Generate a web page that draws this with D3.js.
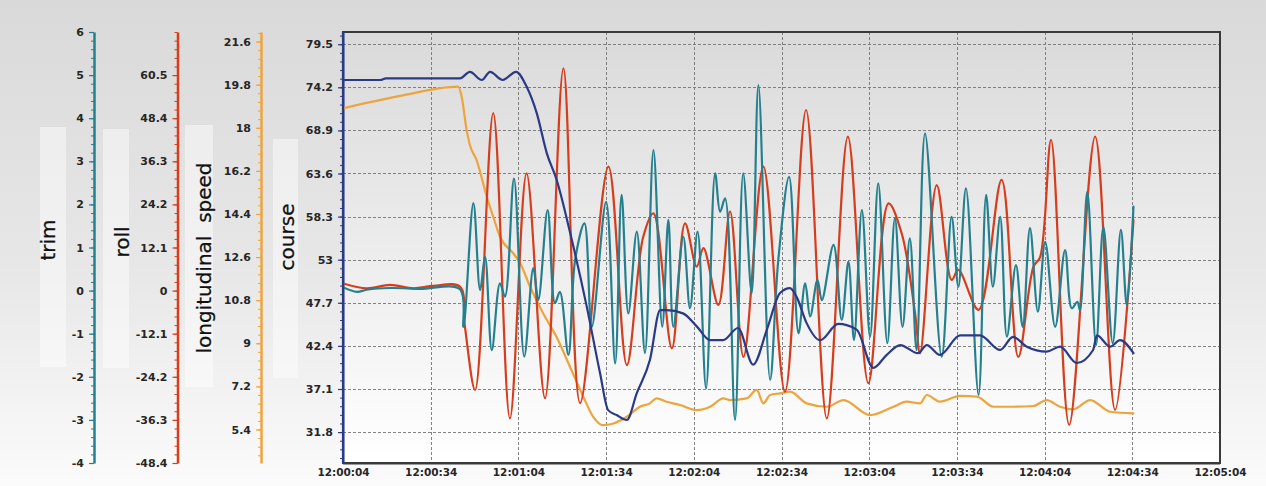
<!DOCTYPE html>
<html>
<head>
<meta charset="utf-8">
<script src="https://cdn.jsdelivr.net/npm/d3@7"></script>
<style>
  body { margin: 0; background: #fff; }
  svg { display: block; }
</style>
</head>
<body>
<svg id="chart" width="1266" height="486"></svg>
<script>
// ---- time axis ----
const startLabel = "12:00:04";
const endLabel = "12:05:04";
const timeTickLabels = ["12:00:04", "12:00:34", "12:01:04", "12:01:34", "12:02:04", "12:02:34",
                        "12:03:04", "12:03:34", "12:04:04", "12:04:34", "12:05:04"];

// ---- axis tick labels ----
const trimTickLabels   = ["-4", "-3", "-2", "-1", "0", "1", "2", "3", "4", "5", "6"];
const rollTickLabels   = ["-48.4", "-36.3", "-24.2", "-12.1", "0", "12.1", "24.2", "36.3", "48.4", "60.5"];
const speedTickLabels  = ["5.4", "7.2", "9", "10.8", "12.6", "14.4", "16.2", "18", "19.8", "21.6"];
const courseTickLabels = ["31.8", "37.1", "42.4", "47.7", "53", "58.3", "63.6", "68.9", "74.2", "79.5"];

// ---- axis ranges ----
const trimDomain   = [-4, 6];
const rollDomain   = [-48.4, 72.6];
const speedDomain  = [4, 22];
const courseDomain = [28, 81];

// ---- series (seconds after 12:00:04, value) ----
const courseSec = [0, 12.7, 14.7, 40, 43.4, 47.5, 50.3, 54.6, 59.2, 62.8, 66.3, 69.7, 73.1, 77.7, 83.4, 87.9,
  90.7, 93.6, 97.1, 100.5, 105, 108.5, 110.7, 116.3, 121, 125.6, 130, 135.1, 140.3, 145, 149.5, 152.9,
  155.2, 158.6, 163.2, 169.4, 175.7, 181.4, 186, 190.6, 196.7, 199.7, 204.2, 211.1, 217.9, 224.8, 229.2,
  233.9, 240.7, 245.3, 251, 256.6, 257.9, 262.4, 265.8, 270.4];
const courseVal = [75.1, 75.1, 75.3, 75.3, 76.1, 75.1, 76.1, 75.1, 76.1, 74.3, 71.0, 66.1, 62.8, 56.3, 47.2, 39.1,
  34.5, 33.9, 33.3, 36.6, 40.7, 46.8, 46.8, 46.4, 44.8, 43.1, 43.1, 44.6, 40.1, 44.4, 48.9, 49.5,
  48.4, 45.2, 43.1, 45.1, 44.4, 39.7, 41.3, 42.5, 41.5, 42.5, 41.3, 43.7, 43.7, 41.9, 43.5,
  42.3, 41.7, 42.3, 40.3, 41.9, 43.7, 42.3, 43.1, 41.5];

const speedSec = [0, 19.5, 39.4, 40.6, 42.3, 43.4, 45.7, 49.2, 51.4, 53.7, 58.3, 60.6, 64, 68.5, 73.1, 77.7, 82.2,
  85.6, 89, 92.5, 97.1, 101.6, 105, 107.3, 110.7, 115.3, 121, 125.6, 130.1, 132.4, 138.1, 141.5, 143.8,
  146.1, 149.5, 152.9, 158.6, 165.5, 171.2, 180.3, 188.3, 192.8, 197.4, 199.7, 204.2, 211.1, 216.8,
  222.5, 229.3, 236.2, 240.7, 245.3, 249.8, 255.6, 262.4, 270.4];
const speedVal = [18.81, 19.33, 19.72, 19.3, 17.9, 17.28, 16.65, 15.12, 14.28, 13.45, 12.75, 12.34, 11.36, 10.24, 9.25, 8.0, 6.77,
  5.93, 5.58, 5.65, 5.93, 6.35, 6.49, 6.7, 6.56, 6.42, 6.21, 6.35, 6.7, 6.63, 6.7, 7.05, 6.49,
  6.84, 6.91, 6.98, 6.49, 6.35, 6.63, 6.0, 6.35, 6.56, 6.49, 6.84, 6.56, 6.8, 6.77,
  6.35, 6.35, 6.38, 6.63, 6.35, 6.24, 6.63, 6.14, 6.07];

const rollSec = [0, 8.1, 16.1, 24.1, 30.9, 40, 41.7, 45.2, 51.4, 57.1, 62.8, 69.1, 75.4, 81.1, 90.8, 97.1,
  102.7, 106.2, 112.5, 117, 121, 123.3, 128.4, 132.4, 137, 143.8, 151.2, 158.4, 165.5, 172.7, 179.7,
  186.6, 191.1, 195.7, 197.4, 203.1, 208.2, 210.5, 217.4, 225.3, 231, 236.2, 238.5, 242.2, 248.4,
  257.3, 264.1, 270.4];
const rollVal = [2.0, 0.65, 1.6, 0.65, 1.3, 1.1, -10.1, -27.9, 49.8, -35.9, 32.9, -30.2, 62.4, -31.6, 34.8, -20.9,
  15.1, 21.7, -16.2, 18.9, 6.7, 11.9, -4.0, 22.2, -18.6, 34.8, -28.4, 50.7, -35.9, 43.2, -26.0,
  24.5, 16.1, -6.4, -17.6, 29.6, 3.0, 5.8, -5.4, 31.1, -18.6, 6.7, 9.5, 42.3, -37.7,
  43.2, -33.5, 19.8];

const trimSec = [0, 4.7, 8.1, 16.1, 26.3, 40, 41.2, 44.6, 46.9, 48.6, 50.9, 53.7, 55.4, 58.5, 62, 65.1,
  66.8, 70, 72.5, 74.2, 77.1, 79.4, 82.6, 85.1, 90, 93.1, 95.3, 97.6, 100.5, 103.3, 106.2, 109.2,
  111.3, 113, 116.4, 118.7, 121.3, 124.2, 127.3, 129, 130.7, 134.1, 136.9, 139.8, 142.1, 146.1,
  148.9, 152.6, 155.8, 158.1, 159.8, 162.3, 163.8, 167.8, 170.6, 172.9, 174.8, 177.5, 180.3, 183.1,
  186.2, 188.8, 191.4, 193.9, 196.2, 199.1, 204.8, 208.2, 210.5, 213.1, 217.4, 220, 222.3, 224.8,
  227.1, 230.2, 232.5, 235, 237.7, 240.2, 243.6, 247, 249.3, 251.2, 252.1, 254.6, 257.6, 260.1,
  263.3, 266.1, 268.1, 270.4];
const trimVal = [0.08, -0.03, 0.02, 0.06, 0.04, 0.03, -0.84, 2.03, 0.01, 0.79, -1.38, 0.17, -0.14, 2.6, -1.53, 0.52,
  -0.22, 1.87, -0.29, -0.03, -1.49, 0.71, 1.56, -0.84, 2.06, -1.69, 2.22, -0.53, 1.37, -1.45, 3.26, -0.84,
  1.64, -0.84, 1.25, -0.41, 1.37, -2.27, 2.72, 1.83, 2.14, -3.0, 2.72, -0.06, 4.77, -2.07,
  0.71, 2.64, -0.99, 0.17, -0.6, 0.25, -0.22, 1.06, -0.68, 0.67, -1.15, 1.87, -1.07, 2.49,
  -1.22, 1.68, -0.84, 1.21, -1.38, 3.65, -1.53, 1.71, 0.09, 2.37, -2.42, 2.22, 0.09, 1.71,
  -1.07, 0.59, -0.84, 1.45, -0.49, 1.13, -0.84, 0.94, -0.41, -0.26, -0.45, 2.29, -1.26, 1.48,
  -1.22, 1.41, -0.33, 1.95];

// ---- colours ----
const colTrim = "#24808f";
const colRoll = "#d63d1c";
const colSpeed = "#eea43c";
const colCourse = "#2b3a86";

// ---- layout ----
const W = 1266, H = 486;
const plot = { left: 343, right: 1220, top: 32, bottom: 463 };

const svg = d3.select("#chart");
const defs = svg.append("defs");

const bgGrad = defs.append("linearGradient").attr("id", "bgGrad")
  .attr("x1", 0).attr("y1", 0).attr("x2", 0).attr("y2", 1);
bgGrad.append("stop").attr("offset", "0%").attr("stop-color", "#d9d9d9");
bgGrad.append("stop").attr("offset", "55%").attr("stop-color", "#e7e7e7");
bgGrad.append("stop").attr("offset", "100%").attr("stop-color", "#fbfbfb");

const plotGrad = defs.append("linearGradient").attr("id", "plotGrad")
  .attr("x1", 0).attr("y1", 0).attr("x2", 0).attr("y2", 1);
plotGrad.append("stop").attr("offset", "0%").attr("stop-color", "#dadada");
plotGrad.append("stop").attr("offset", "60%").attr("stop-color", "#f0f0f0");
plotGrad.append("stop").attr("offset", "100%").attr("stop-color", "#ffffff");

defs.append("clipPath").attr("id", "plotClip").append("rect")
  .attr("x", plot.left).attr("y", plot.top)
  .attr("width", plot.right - plot.left).attr("height", plot.bottom - plot.top);

svg.append("rect").attr("width", W).attr("height", H).attr("fill", "url(#bgGrad)");

// ---- scales ----
const parseTime = d3.timeParse("%H:%M:%S");
const t0 = parseTime(startLabel);
const atSec = s => new Date(+t0 + s * 1000);

const x = d3.scaleTime().domain([t0, parseTime(endLabel)]).range([plot.left, plot.right]);
const yCourse = d3.scaleLinear().domain(courseDomain).range([plot.bottom, plot.top]);
const ySpeed = d3.scaleLinear().domain(speedDomain).range([plot.bottom, plot.top]);
const yRoll = d3.scaleLinear().domain(rollDomain).range([plot.bottom, plot.top]);
const yTrim = d3.scaleLinear().domain(trimDomain).range([plot.bottom, plot.top]);

// ---- pale panels behind the axis titles ----
const panels = [
  { x: 40, y: 127, w: 26, h: 240 },
  { x: 103, y: 129, w: 26, h: 239 },
  { x: 185, y: 125, w: 28, h: 262 },
  { x: 273, y: 139, w: 25, h: 239 }
];
svg.append("g").selectAll("rect").data(panels).join("rect")
  .attr("x", d => d.x).attr("y", d => d.y).attr("width", d => d.w).attr("height", d => d.h)
  .attr("fill", "#ffffff").attr("opacity", 0.45);

// ---- plot background ----
svg.append("rect")
  .attr("x", plot.left).attr("y", plot.top)
  .attr("width", plot.right - plot.left).attr("height", plot.bottom - plot.top)
  .attr("fill", "url(#plotGrad)");

// ---- grid ----
const courseTicks = courseTickLabels.map(Number);
const timeTicks = timeTickLabels.map(parseTime);
const grid = svg.append("g").attr("stroke", "#6f6f6f").attr("stroke-width", 1)
  .attr("stroke-dasharray", "3,2").attr("opacity", 0.85);
grid.selectAll("line.h").data(courseTicks).join("line").attr("class", "h")
  .attr("x1", plot.left).attr("x2", plot.right)
  .attr("y1", d => Math.round(yCourse(d)) + 0.5).attr("y2", d => Math.round(yCourse(d)) + 0.5);
grid.selectAll("line.v").data(timeTicks.slice(1, -1)).join("line").attr("class", "v")
  .attr("y1", plot.top).attr("y2", plot.bottom)
  .attr("x1", d => Math.round(x(d)) + 0.5).attr("x2", d => Math.round(x(d)) + 0.5);

// ---- vertical axes ----
const tickFont = "DejaVu Sans, Verdana, sans-serif";

function minorValues(domain, ticks) {
  const step = (ticks[1] - ticks[0]) / 5;
  const out = [];
  for (let v = ticks[0]; v >= domain[0] - 1e-9; v -= step) out.push(v);
  for (let v = ticks[0] + step; v <= domain[1] + 1e-9; v += step) out.push(v);
  return out;
}

function drawAxis(scale, labels, domain, xPos, color, lineWidth) {
  const ticks = labels.map(Number);
  const g = svg.append("g").attr("transform", `translate(${xPos},0)`);
  // minor ticks
  g.append("g").call(d3.axisLeft(scale).tickValues(minorValues(domain, ticks))
      .tickSize(3).tickSizeOuter(0).tickFormat(""))
    .call(s => s.select(".domain").remove())
    .call(s => s.selectAll("line").attr("stroke", color).attr("stroke-width", 1));
  // major ticks and labels
  const major = g.append("g").call(d3.axisLeft(scale).tickValues(ticks)
      .tickSize(5).tickSizeOuter(0).tickPadding(5)
      .tickFormat((d, i) => labels[i]));
  major.select(".domain").attr("stroke", color).attr("stroke-width", lineWidth);
  major.selectAll(".tick line").attr("stroke", color).attr("stroke-width", 1.2);
  major.selectAll(".tick text")
    .attr("fill", "#262626").attr("font-family", tickFont)
    .attr("font-size", 11).attr("font-weight", "bold");
  return major;
}

drawAxis(yTrim, trimTickLabels, trimDomain, 94, colTrim, 2.5);
drawAxis(yRoll, rollTickLabels, rollDomain, 177.5, colRoll, 2.5);
drawAxis(ySpeed, speedTickLabels, speedDomain, 261, colSpeed, 2.5);
drawAxis(yCourse, courseTickLabels, courseDomain, plot.left, colCourse, 2);

// ---- axis titles ----
const titles = [
  { text: "trim", x: 48, y: 240 },
  { text: "roll", x: 122, y: 242 },
  { text: "longitudinal  speed", x: 204, y: 258 },
  { text: "course", x: 287, y: 237 }
];
svg.append("g").selectAll("text").data(titles).join("text")
  .attr("transform", d => `translate(${d.x},${d.y}) rotate(-90)`)
  .attr("text-anchor", "middle").attr("dominant-baseline", "central")
  .attr("font-family", "DejaVu Sans, Verdana, sans-serif")
  .attr("font-size", 20).attr("fill", "#111")
  .attr("stroke", "#111").attr("stroke-width", 0.25)
  .attr("xml:space", "preserve")
  .text(d => d.text);

// ---- series ----
const lines = svg.append("g").attr("clip-path", "url(#plotClip)")
  .attr("fill", "none").attr("stroke-width", 2.2)
  .attr("stroke-linejoin", "round").attr("stroke-linecap", "round");

function series(secs, vals, yScale, color, curve) {
  const pts = d3.zip(secs, vals);
  const line = d3.line()
    .x(d => x(atSec(d[0])))
    .y(d => yScale(d[1]))
    .curve(curve);
  lines.append("path").datum(pts).attr("d", line).attr("stroke", color);
}

series(speedSec, speedVal, ySpeed, colSpeed, d3.curveMonotoneX);
series(rollSec, rollVal, yRoll, colRoll, d3.curveCatmullRom.alpha(0.5));
series(trimSec, trimVal, yTrim, colTrim, d3.curveCatmullRom.alpha(0.5));
series(courseSec, courseVal, yCourse, colCourse, d3.curveMonotoneX);

// ---- plot frame ----
svg.append("rect")
  .attr("x", plot.left).attr("y", plot.top)
  .attr("width", plot.right - plot.left).attr("height", plot.bottom - plot.top)
  .attr("fill", "none").attr("stroke", "#3a3a3a").attr("stroke-width", 2);
svg.append("line")
  .attr("x1", plot.left).attr("x2", plot.right)
  .attr("y1", plot.bottom + 1.5).attr("y2", plot.bottom + 1.5)
  .attr("stroke", "#9a9a9a").attr("stroke-width", 1);
svg.append("line")
  .attr("x1", plot.left).attr("x2", plot.left)
  .attr("y1", plot.top).attr("y2", plot.bottom)
  .attr("stroke", colCourse).attr("stroke-width", 2.2);

// ---- time axis labels ----
const xAxis = svg.append("g").attr("transform", `translate(0,${plot.bottom})`)
  .call(d3.axisBottom(x).tickValues(timeTicks).tickSize(0).tickPadding(6)
    .tickFormat((d, i) => timeTickLabels[i]));
xAxis.select(".domain").remove();
xAxis.selectAll(".tick text")
  .attr("fill", "#262626").attr("font-family", tickFont)
  .attr("font-size", 10.5).attr("font-weight", "bold");
</script>
</body>
</html>
